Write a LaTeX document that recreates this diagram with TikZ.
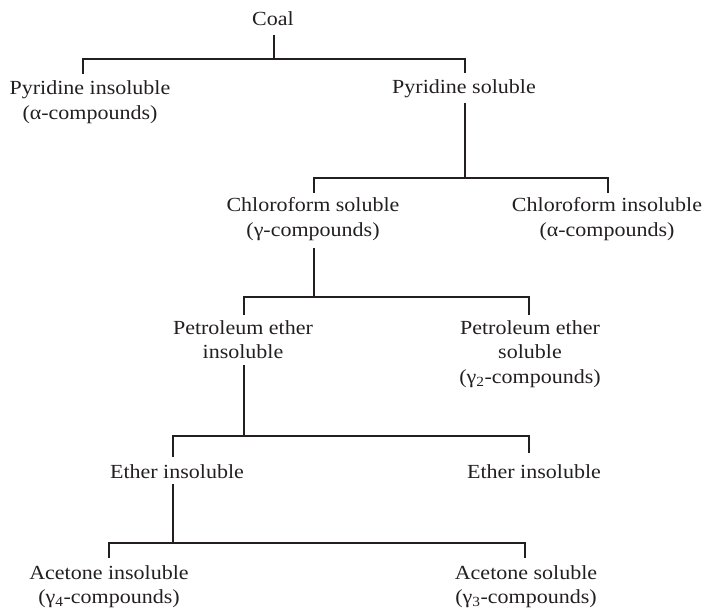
\documentclass[tikz,border=0pt]{standalone}
\usepackage{fontspec}
\setmainfont[FakeStretch=1.1]{Liberation Serif}
\usetikzlibrary{calc}
\definecolor{ink}{HTML}{231F20}
\begin{document}
\begin{tikzpicture}[x=1pt,y=-1pt,
  label/.style={align=center,inner sep=0pt,text=ink,
    font=\fontsize{20}{24.5}\selectfont},
  link/.style={draw=ink,line width=1.2pt}]
\useasboundingbox (0,0) rectangle (706,612);

% fractions
\node[label] (coal)  at (273,18.3)  {Coal};
\node[label] (pyrI)  at (90,102)    {Pyridine insoluble\\(α-compounds)};
\node[label] (pyrS)  at (464,89)    {Pyridine soluble};
\node[label] (chlS)  at (313,219.3) {Chloroform soluble\\(γ-compounds)};
\node[label] (chlI)  at (607,219.3) {Chloroform insoluble\\(α-compounds)};
\node[label] (petI)  at (243,339.5) {Petroleum ether\\insoluble};
\node[label] (petS)  at (530,354)   {Petroleum ether\\soluble\\(γ\textsubscript{2}-compounds)};
\node[label] (ethI)  at (177,471.5) {Ether insoluble};
\node[label] (ethR)  at (534,471.5) {Ether insoluble};
\node[label] (aceI)  at (109,586.5) {Acetone insoluble\\(γ\textsubscript{4}-compounds)};
\node[label] (aceS)  at (526,586.5) {Acetone soluble\\(γ\textsubscript{3}-compounds)};

% coal -> pyridine split
\draw[link] ($(coal.center)+(1,16.7)$) -- ++(0,24);
\draw[link] ($(pyrI.center)+(-7,-28)$) |- ($(pyrS.center)+(1,-30)$) -- ++(0,14);

% pyridine soluble -> chloroform split
\draw[link] ($(pyrS.center)+(1,14)$) -- ++(0,75);
\draw[link] ($(chlS.center)+(1,-26.3)$) |- ($(chlI.center)+(1,-41.3)$) -- ++(0,15);

% chloroform soluble -> petroleum ether split
\draw[link] ($(chlS.center)+(1,28.7)$) -- ++(0,49);
\draw[link] ($(petI.center)+(1,-24.5)$) |- ($(petS.center)+(-1,-57)$) -- ++(0,18);

% petroleum ether insoluble -> ether split
\draw[link] ($(petI.center)+(1,25.5)$) -- ++(0,71);
\draw[link] ($(ethI.center)+(-4,-14.5)$) |- ($(ethR.center)+(-5,-35.5)$) -- ++(0,17);

% ether insoluble -> acetone split
\draw[link] ($(ethI.center)+(-4,12.5)$) -- ++(0,59);
\draw[link] ($(aceI.center)+(0,-28.5)$) |- ($(aceS.center)+(-1,-43.5)$) -- ++(0,15);
\end{tikzpicture}
\end{document}
